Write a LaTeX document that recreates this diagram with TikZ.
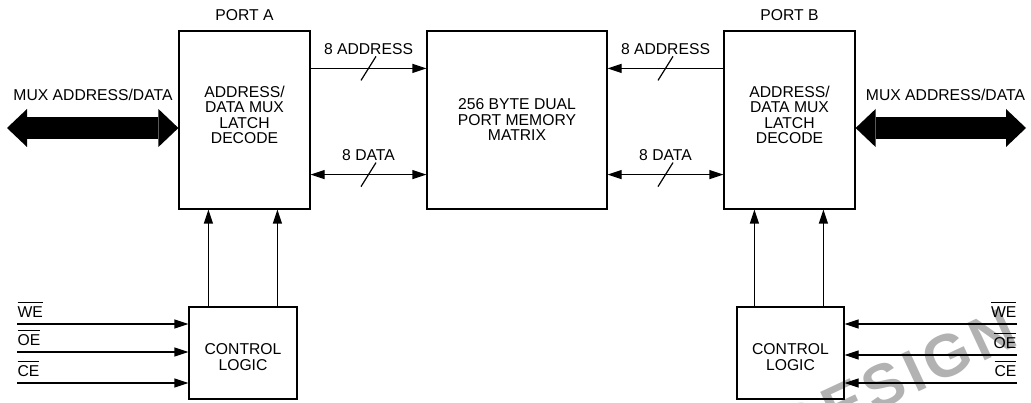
\documentclass[tikz,border=0pt]{standalone}
\usepackage{fontspec}
\setmainfont{Liberation Sans}
\newfontfamily\wmfont[LetterSpace=8]{Liberation Sans}
\usetikzlibrary{arrows.meta,positioning,calc}
\newcommand{\lowact}[1]{$\overline{\mbox{\rule{0pt}{14pt}#1}}$}
\begin{document}
\begin{tikzpicture}[x=1pt,y=-1pt,line width=1.2pt,
 every node/.style={font=\fontsize{15.7}{15.5}\selectfont,align=center},
 blk/.style={draw,inner sep=0pt},
 sig/.style={-{Triangle[length=14pt,width=9pt]}},
 dsig/.style={{Triangle[length=14pt,width=9pt]}-{Triangle[length=14pt,width=9pt]}},
 bus/.style={line width=22pt,{Triangle[length=20pt,width=38pt,line width=0pt]}-{Triangle[length=20pt,width=38pt,line width=0pt]}},
 wm/.style={font=\wmfont\bfseries\fontsize{60}{60}\selectfont,text=black!30,rotate=25,inner sep=0pt},
 sl/.pic={\draw (-7.5,12)--(7.5,-12);}]
\useasboundingbox (0,0) rectangle (1031,403);
\node[wm] (wm) at (897,379) {DESIGN};
% blocks
\node[blk,minimum width=131,minimum height=178] (portA) at (244.5,120) {};
\node[blk,minimum width=180,minimum height=178] (mem) at (517,120) {256 BYTE DUAL\\PORT MEMORY\\MATRIX};
\node[blk,minimum width=131,minimum height=178] (portB) at (789.5,120) {};
\node (txtA) at ([yshift=5pt]portA.center) {ADDRESS/\\DATA MUX\\LATCH\\DECODE};
\node (txtB) at ([yshift=5pt]portB.center) {ADDRESS/\\DATA MUX\\LATCH\\DECODE};
\node[blk,minimum width=108,minimum height=92] (ctrlA) at (243,353) {};
\node[blk,minimum width=107,minimum height=92] (ctrlB) at (790.5,353) {};
\node (txtcA) at ([yshift=-4pt]ctrlA.center) {CONTROL\\LOGIC};
\node (txtcB) at ([yshift=-4pt]ctrlB.center) {CONTROL\\LOGIC};
\node[above=6pt of portA] (lblA) {PORT A};
\node[above=6pt of portB] (lblB) {PORT B};
% buses
\draw[sig] ([yshift=-38pt]portA.north east) -- node[above=10pt]{8 ADDRESS} ([yshift=-38pt]mem.north west);
\draw[sig] ([yshift=-38pt]portB.north west) -- node[above=10pt]{8 ADDRESS} ([yshift=-38pt]mem.north east);
\draw[dsig] ([yshift=35pt]portA.south east) -- node[above=10pt]{8 DATA} ([yshift=35pt]mem.south west);
\draw[dsig] ([yshift=35pt]mem.south east) -- node[above=10pt]{8 DATA} ([yshift=35pt]portB.south west);
\foreach \a/\b in {portA/mem, mem/portB}
 \path ($(\a.north east)!.5!(\b.north west)$) ++(0,38) pic{sl} ($(\a.south east)!.5!(\b.south west)$) ++(0,-35) pic{sl};
\coordinate (busA) at (7,128);
\coordinate (busB) at (1026,128);
\draw[bus] (busA) -- ([yshift=-8pt]portA.west);
\draw[bus] ([yshift=-8pt]portB.east) -- (busB);
\node (muxA) at (93,95) {MUX ADDRESS/DATA};
\node (muxB) at (945.5,95) {MUX ADDRESS/DATA};
% control
\foreach \dx in {20,89} \draw[sig] ([xshift=\dx pt]ctrlA.north west) -- ([xshift=\dx pt]ctrlA.north west |- portA.south);
\foreach \dx in {18,87} \draw[sig] ([xshift=\dx pt]ctrlB.north west) -- ([xshift=\dx pt]ctrlB.north west |- portB.south);
\foreach \s/\y/\yy in {WE/324/324,OE/352/355,CE/383/383} {
 \coordinate (\s-A) at (17,\y);
 \coordinate (\s-B) at (1017,\yy);
 \draw[sig] (\s-A) -- (\s-A -| ctrlA.west);
 \draw[sig] (\s-B) -- (\s-B -| ctrlB.east);
 \node[anchor=south west,inner sep=0pt,yshift=6pt] (\s-lA) at (\s-A) {\lowact{\s}};
 \node[anchor=south east,inner sep=0pt,yshift=6pt] (\s-lB) at (\s-B) {\lowact{\s}};
}
\end{tikzpicture}
\end{document}
